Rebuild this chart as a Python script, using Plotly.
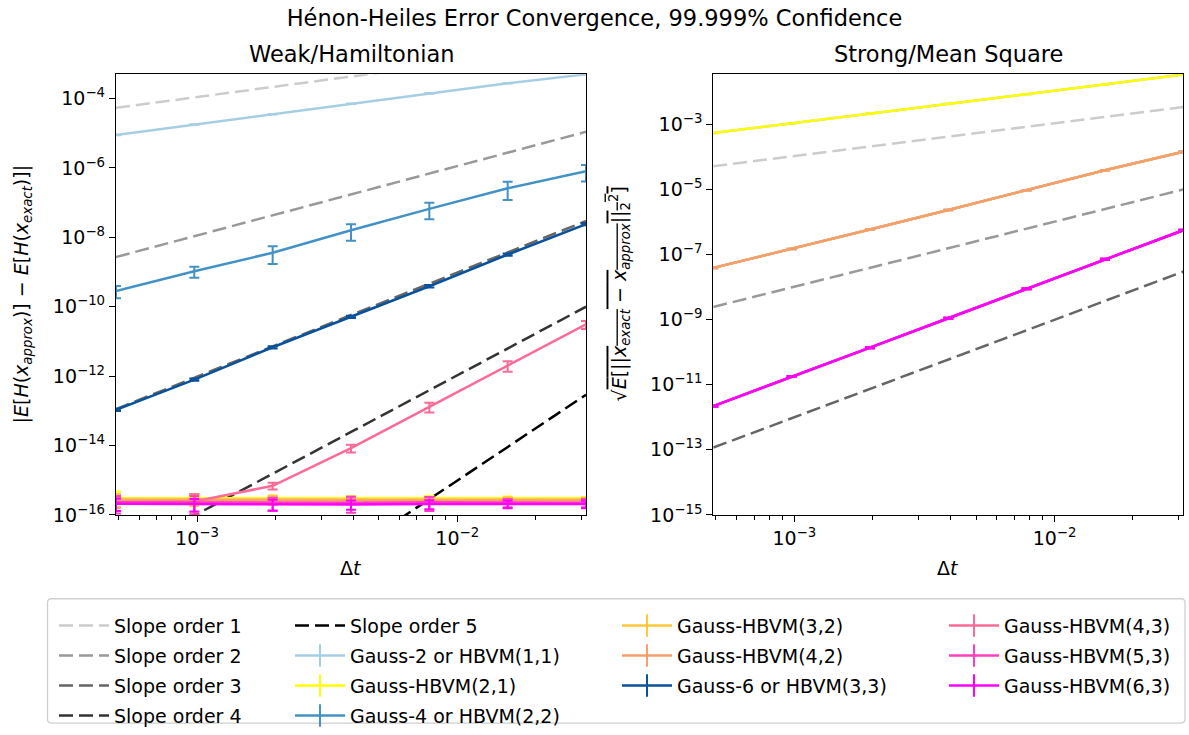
import plotly.graph_objects as go

W, H = 1189, 735

# step sizes (2^-11 ... 2^-5)
dt = [0.00048828125, 0.0009765625, 0.001953125, 0.00390625, 0.0078125, 0.015625, 0.03125]

# ---- weak / Hamiltonian error ----
weak_gauss2 = [8.9e-6, 1.78e-5, 3.55e-5, 7.1e-5, 1.41e-4, 2.75e-4, 5.0e-4]
weak_gauss2_err = [1.5e-7, 3e-7, 6e-7, 1.2e-6, 2.5e-6, 5e-6, 9e-6]
weak_hbvm21 = [3.0e-16, 3.0e-16, 2.95e-16, 2.95e-16, 3.0e-16, 3.0e-16, 3.0e-16]
weak_hbvm21_err = [1.7e-16, 0.8e-16, 0.6e-16, 0.5e-16, 0.5e-16, 0.4e-16, 0.3e-16]
weak_gauss4 = [2.85e-10, 1.05e-9, 3.6e-9, 1.6e-8, 6.6e-8, 2.6e-7, 8.1e-7]
weak_gauss4_err = [1.1e-10, 3.7e-10, 1.9e-9, 8e-9, 3.3e-8, 1.4e-7, 4e-7]
weak_hbvm32 = [2.85e-16, 2.8e-16, 2.8e-16, 2.8e-16, 2.8e-16, 2.85e-16, 2.8e-16]
weak_hbvm32_err = [1.2e-16, 1.0e-16, 0.8e-16, 0.6e-16, 0.5e-16, 0.4e-16, 0.3e-16]
weak_hbvm42 = [2.6e-16, 2.6e-16, 2.55e-16, 2.55e-16, 2.6e-16, 2.6e-16, 2.6e-16]
weak_hbvm42_err = [1.0e-16, 1.4e-16, 0.6e-16, 0.5e-16, 0.4e-16, 0.3e-16, 0.3e-16]
weak_gauss6 = [1.07e-13, 7.9e-13, 6.8e-12, 5.1e-11, 3.9e-10, 3.2e-9, 2.4e-8]
weak_gauss6_err = [8e-15, 6e-14, 5e-13, 4e-12, 3e-11, 2.5e-10, 1.8e-9]
weak_hbvm43 = [2.3e-16, 2.45e-16, 6.9e-16, 8.4e-15, 1.3e-13, 2.0e-12, 3.1e-11]
weak_hbvm43_err = [1.0e-16, 1.45e-16, 1.5e-16, 2.1e-15, 4.1e-14, 6.7e-13, 8e-12]
weak_hbvm53 = [2.3e-16, 2.25e-16, 2.2e-16, 2.25e-16, 2.3e-16, 2.25e-16, 2.25e-16]
weak_hbvm53_err = [1.2e-16, 1.2e-16, 0.9e-16, 1.1e-16, 1.0e-16, 0.6e-16, 0.6e-16]
weak_hbvm63 = [2.1e-16, 2.05e-16, 2.05e-16, 2.0e-16, 2.05e-16, 2.05e-16, 2.05e-16]
weak_hbvm63_err = [0.8e-16, 0.8e-16, 0.7e-16, 0.6e-16, 0.6e-16, 0.5e-16, 0.5e-16]

# ---- strong / mean-square error ----
strong_gauss2 = [5.4e-4, 1.07e-3, 2.14e-3, 4.3e-3, 8.5e-3, 1.7e-2, 3.4e-2]
strong_gauss2_err = [5e-6, 1e-5, 2e-5, 4e-5, 8e-5, 1.6e-4, 3e-4]
strong_hbvm21 = [5.4e-4, 1.07e-3, 2.14e-3, 4.3e-3, 8.5e-3, 1.7e-2, 3.4e-2]
strong_hbvm21_err = [5e-6, 1e-5, 2e-5, 4e-5, 8e-5, 1.6e-4, 3e-4]
strong_gauss4 = [3.9e-8, 1.48e-7, 5.9e-7, 2.35e-6, 9.5e-6, 3.9e-5, 1.45e-4]
strong_gauss4_err = [8e-10, 3e-9, 1.2e-8, 5e-8, 2e-7, 8e-7, 3e-6]
strong_hbvm32 = [3.9e-8, 1.48e-7, 5.9e-7, 2.35e-6, 9.5e-6, 3.9e-5, 1.45e-4]
strong_hbvm32_err = [8e-10, 3e-9, 1.2e-8, 5e-8, 2e-7, 8e-7, 3e-6]
strong_hbvm42 = [3.9e-8, 1.48e-7, 5.9e-7, 2.35e-6, 9.5e-6, 3.9e-5, 1.45e-4]
strong_hbvm42_err = [8e-10, 3e-9, 1.2e-8, 5e-8, 2e-7, 8e-7, 3e-6]
strong_gauss6 = [2.2e-12, 1.78e-11, 1.38e-10, 1.1e-9, 8.9e-9, 7.2e-8, 5.6e-7]
strong_gauss6_err = [8e-14, 6e-13, 5e-12, 4e-11, 3e-10, 2.5e-9, 2e-8]
strong_hbvm43 = [2.2e-12, 1.78e-11, 1.38e-10, 1.1e-9, 8.9e-9, 7.2e-8, 5.6e-7]
strong_hbvm43_err = [8e-14, 6e-13, 5e-12, 4e-11, 3e-10, 2.5e-9, 2e-8]
strong_hbvm53 = [2.2e-12, 1.78e-11, 1.38e-10, 1.1e-9, 8.9e-9, 7.2e-8, 5.6e-7]
strong_hbvm53_err = [8e-14, 6e-13, 5e-12, 4e-11, 3e-10, 2.5e-9, 2e-8]
strong_hbvm63 = [2.2e-12, 1.78e-11, 1.38e-10, 1.1e-9, 8.9e-9, 7.2e-8, 5.6e-7]
strong_hbvm63_err = [8e-14, 6e-13, 5e-12, 4e-11, 3e-10, 2.5e-9, 2e-8]

# reference slope lines: values at the smallest and largest step
slope_x = [dt[0], dt[-1]]
weak_slopes = {
    1: [5.4e-5, 3.45e-3],
    2: [2.7e-9, 1.1e-5],
    3: [1.12e-13, 2.95e-8],
    4: [6.0e-18, 1.0e-10],
    5: [2.7e-22, 2.9e-13],
}
strong_slopes = {
    1: [5.2e-5, 3.4e-3],
    2: [2.45e-9, 1.0e-5],
    3: [1.17e-13, 3.0e-8],
}
slope_colors = {1: "#cccccc", 2: "#999999", 3: "#666666", 4: "#333333", 5: "#000000"}

method_names = [
    "Gauss-2 or HBVM(1,1)", "Gauss-HBVM(2,1)", "Gauss-4 or HBVM(2,2)",
    "Gauss-HBVM(3,2)", "Gauss-HBVM(4,2)", "Gauss-6 or HBVM(3,3)",
    "Gauss-HBVM(4,3)", "Gauss-HBVM(5,3)", "Gauss-HBVM(6,3)",
]
method_colors = [
    "#a6cee3", "#ffff00", "#4292c6",
    "#fcc93a", "#f99e6b", "#08519c",
    "#fb6b95", "#ff3fc0", "#ff00ff",
]
weak_data = [
    (weak_gauss2, weak_gauss2_err), (weak_hbvm21, weak_hbvm21_err), (weak_gauss4, weak_gauss4_err),
    (weak_hbvm32, weak_hbvm32_err), (weak_hbvm42, weak_hbvm42_err), (weak_gauss6, weak_gauss6_err),
    (weak_hbvm43, weak_hbvm43_err), (weak_hbvm53, weak_hbvm53_err), (weak_hbvm63, weak_hbvm63_err),
]
strong_data = [
    (strong_gauss2, strong_gauss2_err), (strong_hbvm21, strong_hbvm21_err), (strong_gauss4, strong_gauss4_err),
    (strong_hbvm32, strong_hbvm32_err), (strong_hbvm42, strong_hbvm42_err), (strong_gauss6, strong_gauss6_err),
    (strong_hbvm43, strong_hbvm43_err), (strong_hbvm53, strong_hbvm53_err), (strong_hbvm63, strong_hbvm63_err),
]

FONT = "DejaVu Sans"
DASH = "14px,6px"

fig = go.Figure()

# slope guides first so the measured curves sit on top
for axes, slopes in (("x", weak_slopes), ("x2", strong_slopes)):
    yax = "y" if axes == "x" else "y2"
    for p, vals in slopes.items():
        fig.add_trace(go.Scatter(
            x=slope_x, y=vals, mode="lines", xaxis=axes, yaxis=yax,
            line=dict(color=slope_colors[p], width=2.5, dash=DASH),
            showlegend=False, hoverinfo="skip",
        ))

for axes, data in (("x", weak_data), ("x2", strong_data)):
    yax = "y" if axes == "x" else "y2"
    for name, color, (vals, errs) in zip(method_names, method_colors, data):
        fig.add_trace(go.Scatter(
            x=dt, y=vals, mode="lines", xaxis=axes, yaxis=yax, name=name,
            line=dict(color=color, width=2.5),
            error_y=dict(type="data", array=errs, color=color, thickness=2, width=5),
            showlegend=False,
        ))

# legend entries, laid out in four columns
legend_cols = [
    [("slope", 1), ("slope", 2), ("slope", 3), ("slope", 4)],
    [("slope", 5), ("m", 0), ("m", 1), ("m", 2)],
    [("m", 3), ("m", 4), ("m", 5)],
    [("m", 6), ("m", 7), ("m", 8)],
]
legend_ids = ["legend", "legend2", "legend3", "legend4"]
for lid, col in zip(legend_ids, legend_cols):
    for kind, k in col:
        if kind == "slope":
            fig.add_trace(go.Scatter(
                x=[None], y=[None], mode="lines", name=f"Slope order {k}",
                line=dict(color=slope_colors[k], width=2.5, dash=DASH),
                legend=lid, legendgroup=f"slope{k}", showlegend=True,
            ))
        else:
            c = method_colors[k]
            fig.add_trace(go.Scatter(
                x=[None], y=[None], mode="lines+markers", name=method_names[k],
                line=dict(color=c, width=2.5),
                marker=dict(symbol="line-ns", size=16, line=dict(width=2, color=c)),
                legend=lid, legendgroup=f"m{k}", showlegend=True,
            ))

def px_x(v):
    return v / W

def px_y(v):
    return 1 - v / H

left_dom = [px_x(116), px_x(586)]
right_dom = [px_x(713.3), px_x(1183.3)]
y_dom = [px_y(522), px_y(75.3)]

minor_vals = [5e-4, 6e-4, 7e-4, 8e-4, 9e-4,
              2e-3, 3e-3, 4e-3, 5e-3, 6e-3, 7e-3, 8e-3, 9e-3,
              2e-2, 3e-2]

def xaxis_cfg(domain, anchor):
    return dict(
        type="log", domain=domain, anchor=anchor,
        range=[-3.3113, -1.5051],
        tickmode="array", tickvals=[1e-3, 1e-2],
        ticktext=["10<sup>\u22123</sup>", "10<sup>\u22122</sup>"],
        ticks="outside", ticklen=6, tickwidth=1.3, tickcolor="black",
        minor=dict(tickmode="array", tickvals=minor_vals, ticks="outside",
                   ticklen=3.5, tickwidth=1, tickcolor="black"),
        showline=True, linecolor="black", linewidth=1.3, mirror=True,
        showgrid=False, zeroline=False,
        tickfont=dict(family=FONT, size=19, color="black"),
    )

def yaxis_cfg(domain, anchor, rng, exps):
    return dict(
        type="log", domain=domain, anchor=anchor, range=rng,
        tickmode="array", tickvals=[10.0 ** e for e in exps],
        ticktext=[f"10<sup>\u2212{-e}</sup>" for e in exps],
        ticks="outside", ticklen=6, tickwidth=1.3, tickcolor="black",
        showline=True, linecolor="black", linewidth=1.3, mirror=True,
        showgrid=False, zeroline=False,
        tickfont=dict(family=FONT, size=19, color="black"),
    )

legend_common = dict(
    orientation="v", xanchor="left", yanchor="top",
    bgcolor="rgba(0,0,0,0)", borderwidth=0,
    font=dict(family=FONT, size=19, color="black"),
    tracegroupgap=2.3, itemclick=False, itemdoubleclick=False,
    itemwidth=50,
)
legend_x = [54, 290, 617, 944]
legend_top = 615
legends = {}
for lid, lx in zip(legend_ids, legend_x):
    legends[lid] = dict(legend_common, x=px_x(lx), y=px_y(legend_top))

# rounded legend frame
x0, x1 = px_x(47.5), px_x(1185)
y0, y1 = px_y(733), px_y(607)
rx, ry = 4 / W, 4 / H
frame_path = (
    f"M{x0 + rx},{y1} L{x1 - rx},{y1} Q{x1},{y1} {x1},{y1 - ry} "
    f"L{x1},{y0 + ry} Q{x1},{y0} {x1 - rx},{y0} L{x0 + rx},{y0} "
    f"Q{x0},{y0} {x0},{y0 + ry} L{x0},{y1 - ry} Q{x0},{y1} {x0 + rx},{y1} Z"
)

annotations = [
    dict(text="Weak/Hamiltonian", x=px_x(351), y=px_y(55), xref="paper", yref="paper",
         showarrow=False, xanchor="center", yanchor="middle",
         font=dict(family=FONT, size=22.5, color="black")),
    dict(text="Strong/Mean Square", x=px_x(948.3), y=px_y(55), xref="paper", yref="paper",
         showarrow=False, xanchor="center", yanchor="middle",
         font=dict(family=FONT, size=22.5, color="black")),
    dict(text="\u0394<i>t</i>", x=px_x(351), y=px_y(576), xref="paper", yref="paper",
         showarrow=False, xanchor="center", yanchor="middle",
         font=dict(family=FONT, size=19, color="black")),
    dict(text="\u0394<i>t</i>", x=px_x(948.3), y=px_y(576), xref="paper", yref="paper",
         showarrow=False, xanchor="center", yanchor="middle",
         font=dict(family=FONT, size=19, color="black")),
    dict(text="|<i>E</i>[<i>H</i>(<i>x</i><sub><i>approx</i></sub>)] \u2212 "
              "<i>E</i>[<i>H</i>(<i>x</i><sub><i>exact</i></sub>)]|",
         x=px_x(22), y=px_y(298.5), xref="paper", yref="paper", textangle=-90,
         showarrow=False, xanchor="center", yanchor="middle",
         font=dict(family=FONT, size=19, color="black")),
    dict(text="\u221a<span style='text-decoration:overline'><i>E</i>[||<i>x</i><sub><i>exact</i></sub> \u2212 "
              "<i>x</i><sub><i>approx</i></sub>||<sub>2</sub><sup>2</sup>]</span>",
         x=px_x(619), y=px_y(298.5), xref="paper", yref="paper", textangle=-90,
         showarrow=False, xanchor="center", yanchor="middle",
         font=dict(family=FONT, size=19, color="black")),
]

fig.update_layout(
    width=W, height=H,
    margin=dict(l=0, r=0, t=0, b=0),
    paper_bgcolor="white", plot_bgcolor="white",
    font=dict(family=FONT, size=19, color="black"),
    title=dict(text="H\u00e9non-Heiles Error Convergence, 99.999% Confidence",
               x=0.5, xanchor="center", y=px_y(18), yanchor="middle",
               font=dict(family=FONT, size=22.5, color="black")),
    xaxis=xaxis_cfg(left_dom, "y"),
    yaxis=yaxis_cfg(y_dom, "x", [-16, -3.30], [-16, -14, -12, -10, -8, -6, -4]),
    xaxis2=xaxis_cfg(right_dom, "y2"),
    yaxis2=yaxis_cfg(y_dom, "x2", [-15, -1.46], [-15, -13, -11, -9, -7, -5, -3]),
    annotations=annotations,
    shapes=[dict(type="path", path=frame_path, xref="paper", yref="paper",
                 line=dict(color="#d0d0d0", width=1.3), fillcolor="rgba(0,0,0,0)")],
    showlegend=True,
    **legends,
)

fig.write_html("out.html")
